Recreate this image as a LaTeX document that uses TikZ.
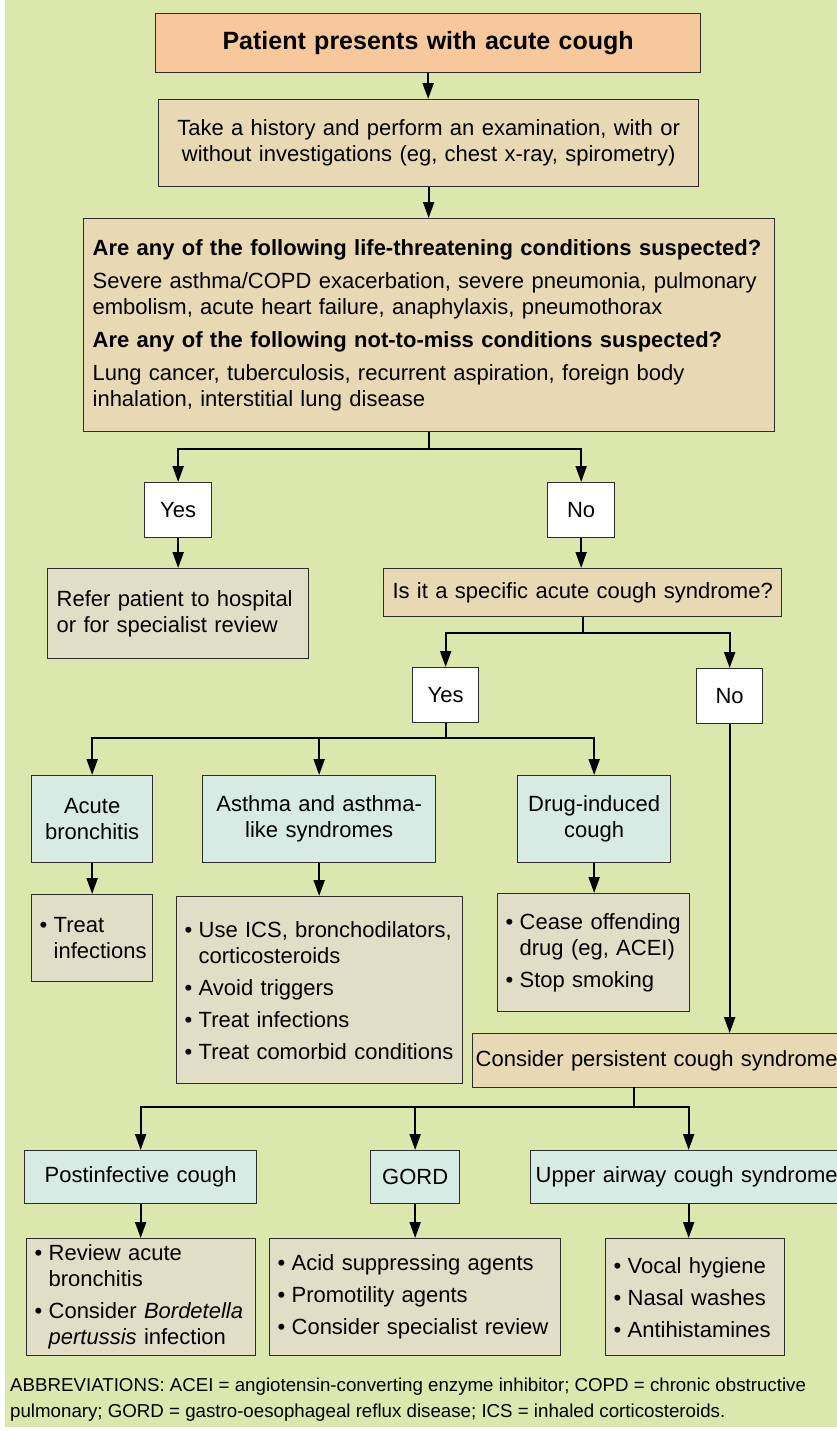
\documentclass[tikz,border=0pt]{standalone}
\usepackage{fontspec}
\setmainfont{Liberation Sans}
\usetikzlibrary{arrows.meta}
\definecolor{bg}{RGB}{220,231,174}
\definecolor{orangebox}{RGB}{247,200,155}
\definecolor{tanbox}{RGB}{233,216,180}
\definecolor{greybox}{RGB}{225,222,200}
\definecolor{cyanbox}{RGB}{215,235,228}
\definecolor{edge}{RGB}{45,45,45}
\newcommand{\bul}{\hspace*{5pt}\makebox[14pt][l]{\textbullet}}
\newcommand{\ind}{\hspace*{19pt}}
\begin{document}
\begin{tikzpicture}[x=1pt,y=-1pt,
  box/.style={draw=edge, line width=1.3pt, anchor=north west, inner ysep=0pt, text=black,
    font=\fontsize{22}{26}\selectfont},
  cbox/.style={box, align=center, inner xsep=4pt},
  lbox/.style={box, align=left, inner xsep=3pt},
  orange/.style={fill=orangebox},
  tan/.style={fill=tanbox},
  grey/.style={fill=greybox},
  cyan/.style={fill=cyanbox},
  white/.style={fill=white},
  ln/.style={line width=2pt, draw=black},
  arr/.style={ln, -{Triangle[length=16pt,width=11pt]}}
]
\useasboundingbox (0,0) rectangle (837,1432);
\clip (0,0) rectangle (837,1432);
\fill[white] (0,0) rectangle (837,1432);
\fill[bg] (5,0) rectangle (837,1427);

% top
\node[cbox, orange, minimum width=545pt, minimum height=59pt, text width=537pt,
  font=\fontsize{25}{29}\selectfont\bfseries] (b1) at (155,13) {Patient presents with acute cough};
\node[cbox, tan, minimum width=540pt, minimum height=87pt, text width=532pt] (b2) at (158,99)
  {\rule{0pt}{8pt}Take a history and perform an examination, with or\\without investigations (eg, chest x-ray, spirometry)};
\node[lbox, tan, minimum width=691pt, minimum height=213pt, text width=685pt] (b3) at (83,218)
  {\hspace*{6pt}\textbf{Are any of the following life-threatening conditions suspected?}\\[7pt]
   \hspace*{6pt}Severe asthma/COPD exacerbation, severe pneumonia, pulmonary\\
   \hspace*{6pt}embolism, acute heart failure, anaphylaxis, pneumothorax\\[7pt]
   \hspace*{6pt}\textbf{Are any of the following not-to-miss conditions suspected?}\\[7pt]
   \hspace*{6pt}Lung cancer, tuberculosis, recurrent aspiration, foreign body\\
   \hspace*{6pt}inhalation, interstitial lung disease};

\node[cbox, white, minimum width=67pt, minimum height=55pt, text width=59pt] (yes1) at (144,482) {Yes};
\node[cbox, white, minimum width=67pt, minimum height=55pt, text width=59pt] (no1) at (547,482) {No};

\node[lbox, grey, minimum width=261pt, minimum height=90pt, text width=255pt] (refer) at (47,568)
  {\hspace*{6pt}Refer patient to hospital\\\hspace*{6pt}or for specialist review};
\node[cbox, tan, minimum width=398pt, minimum height=48pt, text width=390pt] (isit) at (383,568)
  {Is it a specific acute cough syndrome?};

\node[cbox, white, minimum width=66pt, minimum height=55pt, text width=58pt] (yes2) at (412,667) {Yes};
\node[cbox, white, minimum width=66pt, minimum height=55pt, text width=58pt] (no2) at (696,668) {No};

% acute cough syndromes
\node[cbox, cyan, minimum width=121pt, minimum height=87pt, text width=113pt] (acute) at (31,775) {Acute\\bronchitis};
\node[cbox, cyan, minimum width=233pt, minimum height=87pt, text width=225pt] (asthma) at (202,775) {Asthma and asthma-\\like syndromes};
\node[cbox, cyan, minimum width=153pt, minimum height=87pt, text width=145pt] (drug) at (517,775) {Drug-induced\\cough};

\node[lbox, grey, minimum width=121pt, minimum height=87pt, text width=115pt] (treat) at (31,894)
  {\bul Treat\\\ind infections};
\node[lbox, grey, minimum width=286pt, minimum height=187pt, text width=280pt] (asthmalist) at (176,896)
  {\bul Use ICS, bronchodilators,\\\ind corticosteroids\\[6pt]\bul Avoid triggers\\[6pt]\bul Treat infections\\[6pt]\bul Treat comorbid conditions};
\node[lbox, grey, minimum width=192pt, minimum height=118pt, text width=186pt] (druglist) at (497,893)
  {\bul Cease offending\\\ind drug (eg, ACEI)\\[6pt]\bul Stop smoking};

% persistent cough
\node[lbox, tan, minimum width=380pt, minimum height=54pt, text width=374pt] (consider) at (472,1033)
  {Consider persistent cough syndrome};

\node[cbox, cyan, minimum width=232pt, minimum height=53pt, text width=224pt] (post) at (24,1150) {Postinfective cough};
\node[cbox, cyan, minimum width=89pt, minimum height=53pt, text width=81pt] (gord) at (370,1150) {GORD};
\node[lbox, cyan, minimum width=316pt, minimum height=53pt, text width=310pt] (upper) at (530,1150)
  {\hspace*{2pt}Upper airway cough syndrome};

\node[lbox, grey, minimum width=229pt, minimum height=117pt, text width=223pt] (postlist) at (26,1238)
  {\bul Review acute\\\ind bronchitis\\[6pt]\bul Consider \textit{Bordetella}\\\ind\textit{pertussis} infection};
\node[lbox, grey, minimum width=291pt, minimum height=117pt, text width=285pt] (gordlist) at (269,1238)
  {\bul Acid suppressing agents\\[6pt]\bul Promotility agents\\[6pt]\bul Consider specialist review};
\node[lbox, grey, minimum width=179pt, minimum height=117pt, text width=173pt] (upperlist) at (605,1238)
  {\bul Vocal hygiene\\[6pt]\bul Nasal washes\\[6pt]\bul Antihistamines};

\node[anchor=north west, align=left, inner sep=0pt, font=\fontsize{18.7}{26}\selectfont] (abbr) at (10,1378)
  {ABBREVIATIONS: ACEI = angiotensin-converting enzyme inhibitor; COPD = chronic obstructive\\
   pulmonary; GORD = gastro-oesophageal reflux disease; ICS = inhaled corticosteroids.};

% connectors
\draw[arr] (b1.south) -- (b1.south |- b2.north);
\draw[arr] (b2.south) -- (b2.south |- b3.north);
\draw[arr] (b3.south) -- ++(0,17) -| (yes1.north);
\draw[arr] (b3.south) -- ++(0,17) -| (no1.north);
\draw[arr] (yes1.south) -- (refer.north);
\draw[arr] (no1.south) -- (no1.south |- isit.north);
\draw[arr] (isit.south) -- ++(0,16) -| (yes2.north);
\draw[arr] (isit.south) -- ++(0,16) -| (no2.north);

\path (yes2.south) ++(0,15) coordinate (j3);
\draw[ln] (yes2.south) -- (j3);
\draw[arr] (j3) -| (acute.north);
\draw[arr] (j3) -| (asthma.north);
\draw[arr] (j3) -| (drug.north);
\draw[arr] (acute.south) -- (acute.south |- treat.north);
\draw[arr] (asthma.south) -- (asthma.south |- asthmalist.north);
\draw[arr] (drug.south) -- (drug.south |- druglist.north);

\draw[arr] (no2.south) -- (no2.south |- consider.north);
\coordinate (cj) at (634,1087);
\draw[arr] (cj) -- ++(0,20) -| (post.north);
\draw[arr] (cj) -- ++(0,20) -| (gord.north);
\draw[arr] (cj) -- ++(0,20) -| (upper.north);
\draw[arr] (post.south) -- (post.south |- postlist.north);
\draw[arr] (gord.south) -- (gord.south |- gordlist.north);
\draw[arr] (upper.south) -- (upper.south |- upperlist.north);
\end{tikzpicture}
\end{document}
